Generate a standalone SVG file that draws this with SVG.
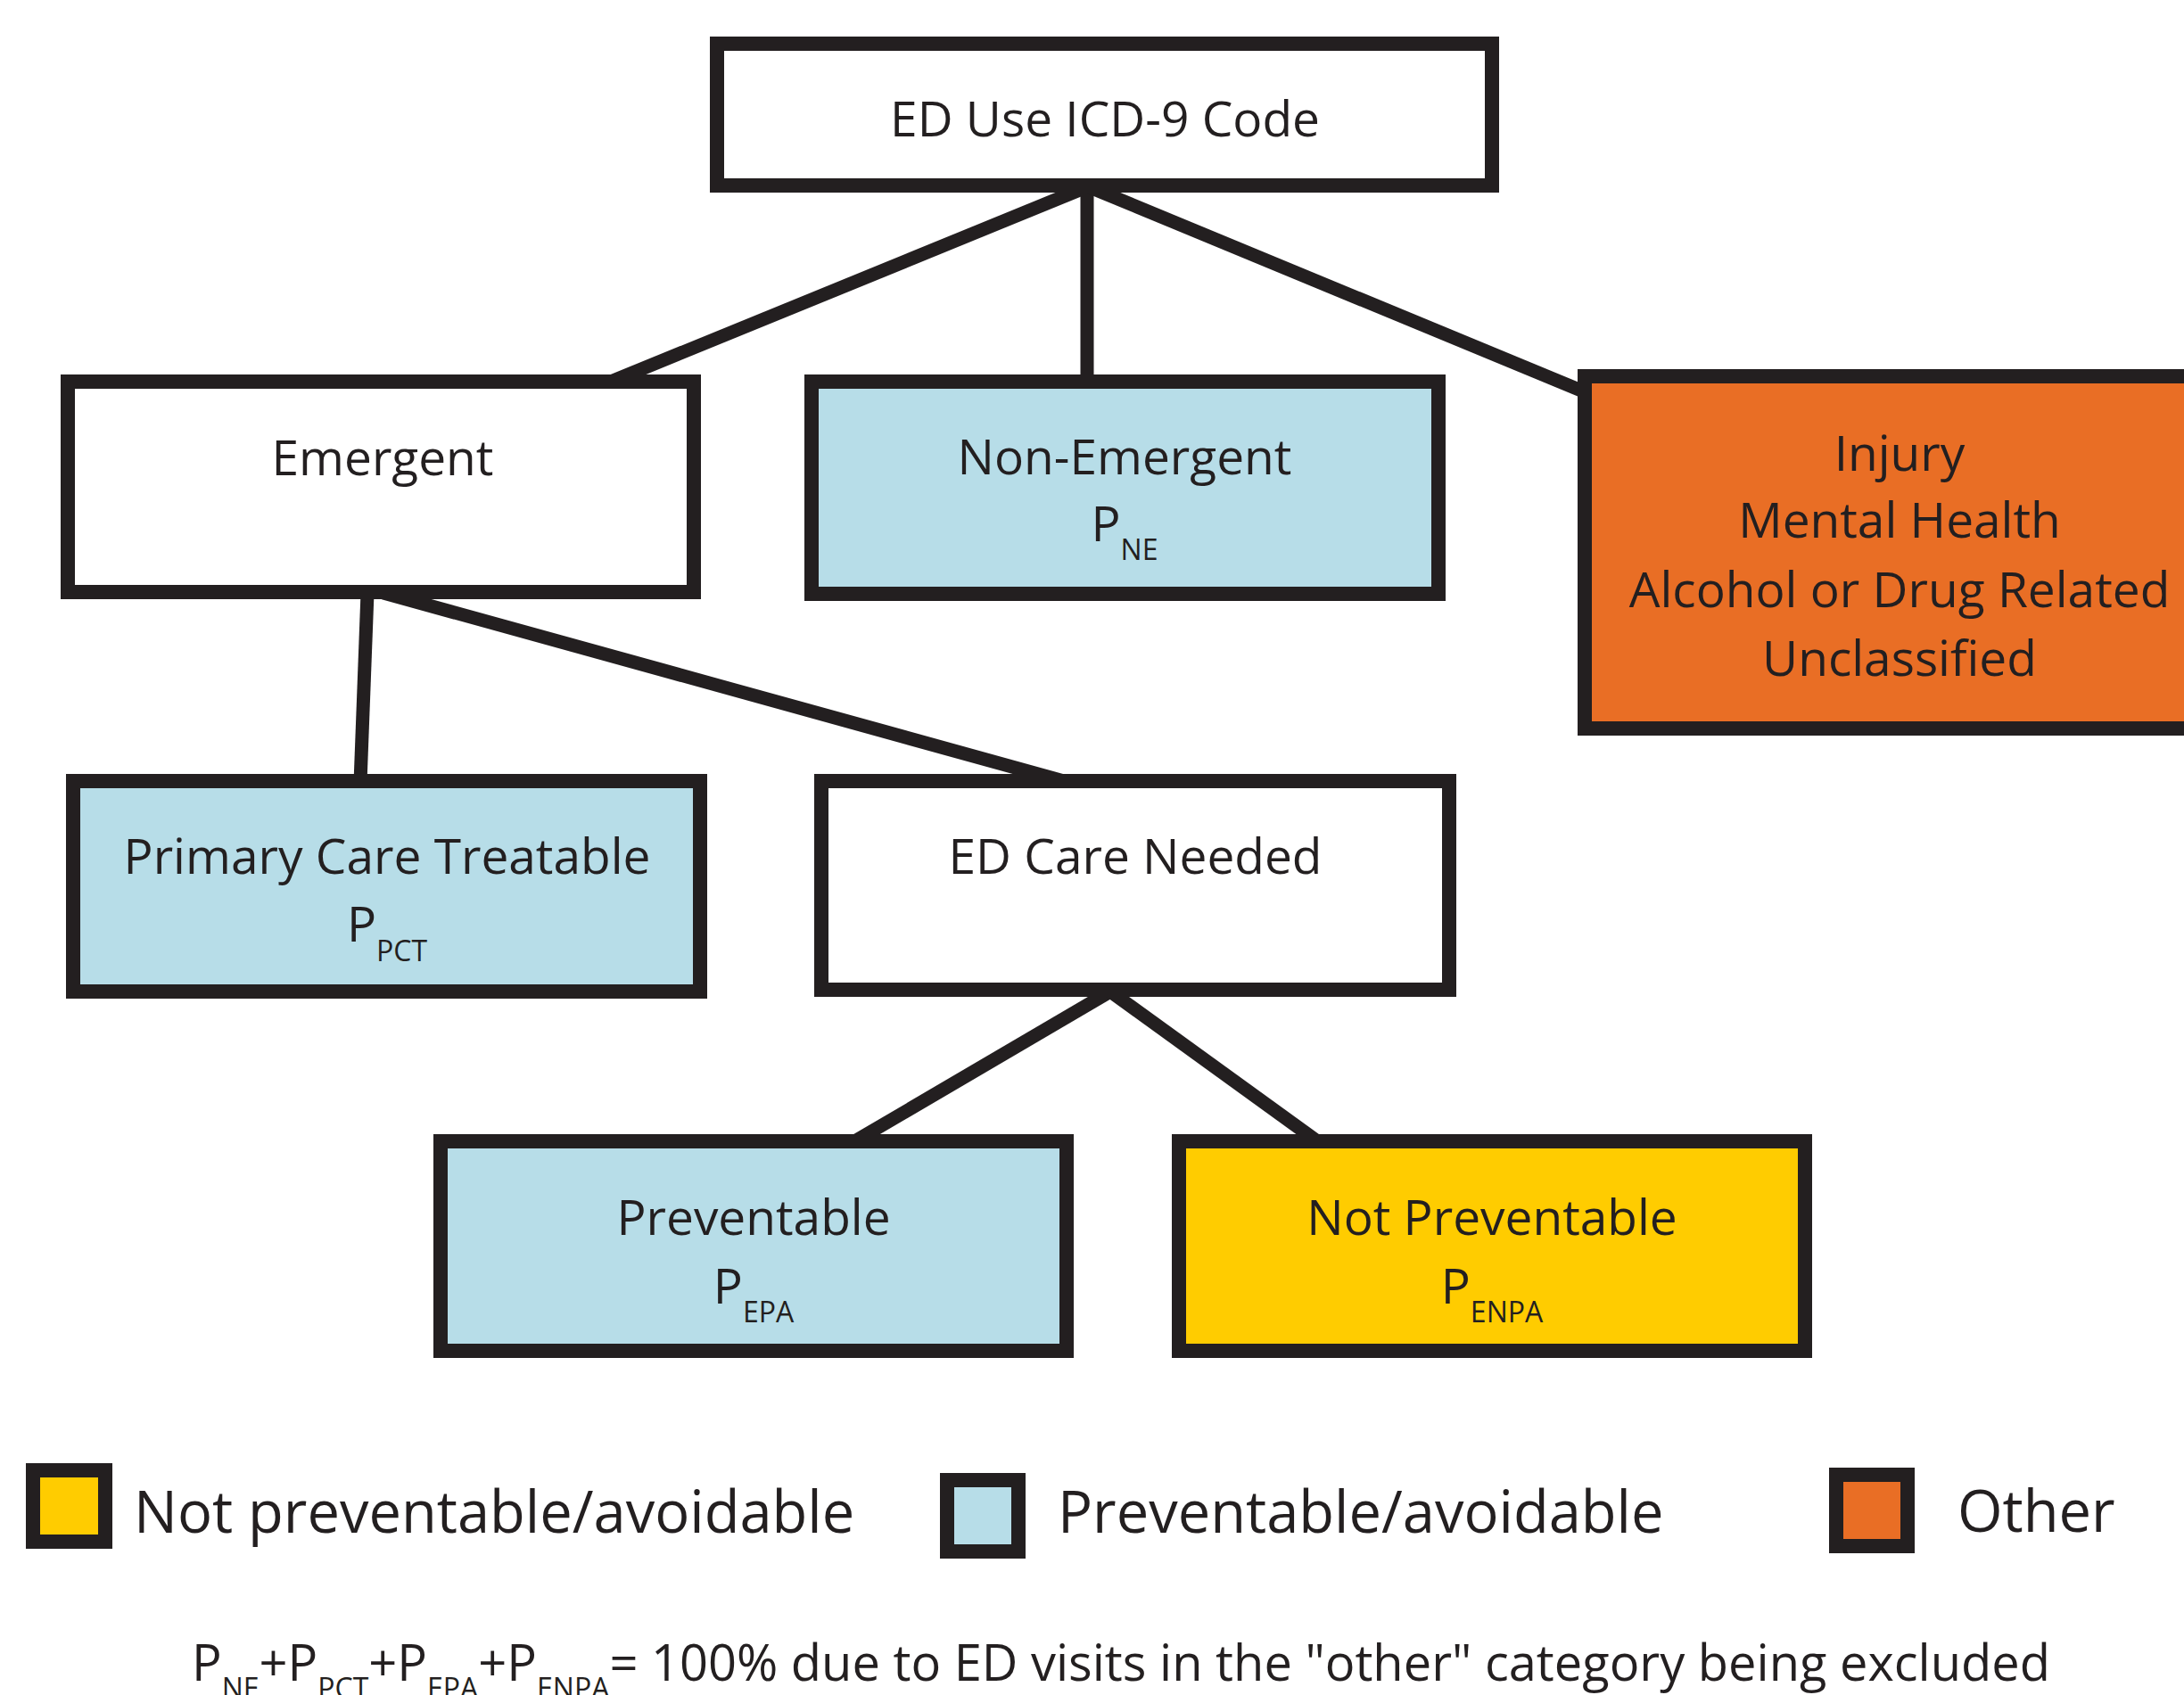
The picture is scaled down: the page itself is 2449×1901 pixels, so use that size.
<svg xmlns="http://www.w3.org/2000/svg" width="2449" height="1901" viewBox="0 0 2449 1901">
<style>
.box{stroke:#231f20;stroke-width:16;}
.w{fill:#ffffff;}
.b{fill:#b7dde8;}
.y{fill:#ffcc00;}
.o{fill:#e96e25;}
.t{font-family:"Open Sans","Noto Sans","DejaVu Sans",sans-serif;font-size:55px;fill:#231f20;text-anchor:middle;}
.lg{font-family:"Open Sans","Noto Sans","DejaVu Sans",sans-serif;font-size:65px;fill:#231f20;}
.f{font-family:"Open Sans","Noto Sans","DejaVu Sans",sans-serif;font-size:56px;fill:#231f20;}
.c{stroke:#231f20;stroke-width:15;fill:none;stroke-linecap:butt;}
</style>
<rect width="2449" height="1901" fill="#ffffff"/>
<g id="connectors">
<line class="c" x1="1218" y1="210" x2="685" y2="428"/>
<line class="c" x1="1219" y1="210" x2="1219" y2="428"/>
<line class="c" x1="1222" y1="210" x2="1785" y2="443"/>
<line class="c" x1="412" y1="665" x2="404" y2="878"/>
<line class="c" x1="430" y1="665" x2="1200" y2="878"/>
<line class="c" x1="1245" y1="1112" x2="955" y2="1282"/>
<line class="c" x1="1245" y1="1112" x2="1480" y2="1282"/>
</g>
<g id="node-root">
<rect class="box w" x="804" y="49" width="869" height="159"/>
<text class="t" x="1239" y="153">ED Use ICD-9 Code</text>
</g>
<g id="node-emergent">
<rect class="box w" x="76" y="428" width="702" height="236"/>
<text class="t" x="429" y="533">Emergent</text>
</g>
<g id="node-nonemergent">
<rect class="box b" x="910" y="428" width="703" height="238"/>
<text class="t" x="1261" y="532">Non-Emergent</text>
<text class="t" x="1261" y="607">P<tspan dy="21" font-size="32">NE</tspan></text>
</g>
<g id="node-other">
<rect class="box o" x="1777" y="422" width="700" height="395"/>
<text class="t" x="2130" y="528">Injury</text>
<text class="t" x="2130" y="603">Mental Health</text>
<text class="t" x="2130" y="681">Alcohol or Drug Related</text>
<text class="t" x="2130" y="758">Unclassified</text>
</g>
<g id="node-pct">
<rect class="box b" x="82" y="876" width="703" height="236"/>
<text class="t" x="434" y="980">Primary Care Treatable</text>
<text class="t" x="434" y="1056">P<tspan dy="22" font-size="32">PCT</tspan></text>
</g>
<g id="node-edcare">
<rect class="box w" x="921" y="876" width="704" height="234"/>
<text class="t" x="1273" y="980">ED Care Needed</text>
</g>
<g id="node-preventable">
<rect class="box b" x="494" y="1280" width="702" height="235"/>
<text class="t" x="845" y="1385">Preventable</text>
<text class="t" x="845" y="1462">P<tspan dy="21" font-size="32">EPA</tspan></text>
</g>
<g id="node-notpreventable">
<rect class="box y" x="1322" y="1280" width="702" height="235"/>
<text class="t" x="1673" y="1385">Not Preventable</text>
<text class="t" x="1673" y="1462">P<tspan dy="21" font-size="32">ENPA</tspan></text>
</g>
<g id="legend">
<rect class="box y" x="37" y="1649" width="81" height="80"/>
<text class="lg" x="150" y="1719">Not preventable/avoidable</text>
<rect class="box b" x="1062" y="1660" width="80" height="80"/>
<text class="lg" x="1186" y="1719">Preventable/avoidable</text>
<rect class="box o" x="2059" y="1654" width="80" height="80"/>
<text class="lg" x="2195" y="1718">Other</text>
</g>
<g id="formula">
<text class="f" x="215" y="1885">P<tspan dy="20" font-size="32">NE</tspan><tspan dy="-20">+P</tspan><tspan dy="20" font-size="32">PCT</tspan><tspan dy="-20">+P</tspan><tspan dy="20" font-size="32">EPA</tspan><tspan dy="-20">+P</tspan><tspan dy="20" font-size="32">ENPA</tspan><tspan dy="-20">= 100% due to ED visits in the "other" category being excluded</tspan></text>
</g>
</svg>
